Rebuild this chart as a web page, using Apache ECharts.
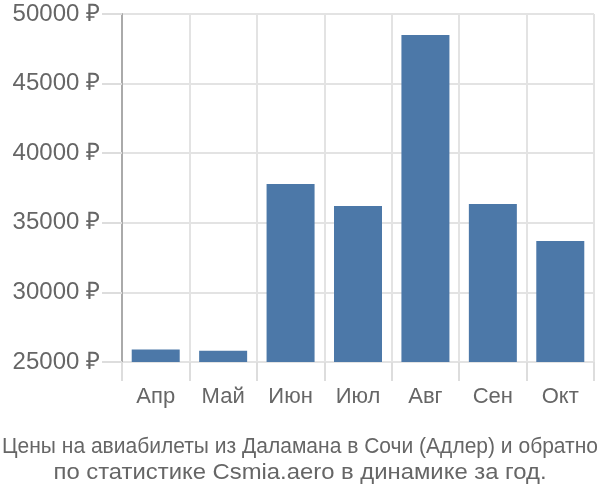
<!DOCTYPE html>
<html>
<head>
<meta charset="utf-8">
<script src="https://cdn.jsdelivr.net/npm/echarts@6/dist/echarts.min.js"></script>
<style>
html,body{margin:0;padding:0;background:#fff;}
#main{width:600px;height:500px;}
</style>
</head>
<body>
<div id="main"></div>
<script>
var categories = ['Апр', 'Май', 'Июн', 'Июл', 'Авг', 'Сен', 'Окт'];
var prices = [25900, 25800, 37790, 36200, 48500, 36350, 33700];
var yTicks = [25000, 30000, 35000, 40000, 45000, 50000];
var captionLines = ['Цены на авиабилеты из Даламана в Сочи (Адлер) и обратно', 'по статистике Csmia.aero в динамике за год.'];

var capFont = '22px "Liberation Sans", Arial, sans-serif';
function textWidth(t) {
  var c = document.createElement('canvas').getContext('2d');
  c.font = capFont;
  return c.measureText(t).width;
}
var targetWidths = [596, 493];

var chart = echarts.init(document.getElementById('main'), null, {renderer: 'canvas'});
chart.setOption({
  animation: false,
  backgroundColor: '#ffffff',
  graphic: captionLines.map(function (line, i) {
    var w = textWidth(line);
    var s = targetWidths[i] / w;
    return {
      type: 'text',
      x: 300,
      y: 447 + i * 26,
      scaleX: s,
      style: {
        text: line,
        font: capFont,
        fill: '#666666',
        align: 'center',
        verticalAlign: 'middle'
      }
    };
  }),
  grid: {left: 122, right: 6, top: 14, bottom: 138, containLabel: false},
  xAxis: {
    type: 'category',
    data: categories,
    axisLine: {show: false},
    axisTick: {show: true, length: 19, alignWithLabel: false, lineStyle: {color: '#dddddd', width: 2}},
    splitLine: {show: true, lineStyle: {color: '#e3e3e3', width: 2}},
    axisLabel: {
      margin: 24,
      fontFamily: '"Liberation Sans", Arial, sans-serif',
      fontSize: 22,
      color: '#666666'
    }
  },
  yAxis: {
    type: 'value',
    min: yTicks[0],
    max: yTicks[yTicks.length - 1],
    interval: 5000,
    axisLine: {show: true, lineStyle: {color: '#aaaaaa', width: 2}},
    axisTick: {show: true, length: 20, lineStyle: {color: '#dddddd', width: 2}},
    splitLine: {show: true, lineStyle: {color: '#e3e3e3', width: 2}},
    axisLabel: {
      margin: 22,
      fontFamily: '"Liberation Sans", Arial, sans-serif',
      fontSize: 24,
      color: '#666666',
      formatter: function (v) { return v + ' ₽'; }
    }
  },
  series: [{
    type: 'bar',
    data: prices,
    barWidth: 48,
    itemStyle: {color: '#4c78a8'}
  }]
});
</script>
</body>
</html>
